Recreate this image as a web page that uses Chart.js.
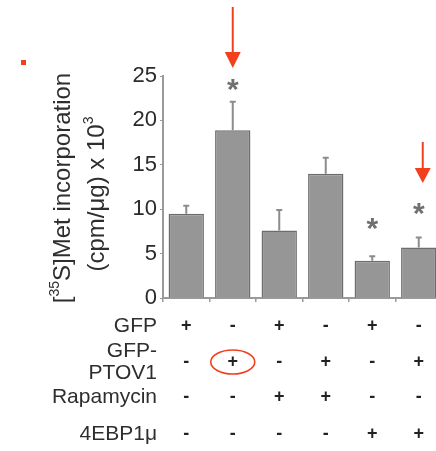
<!DOCTYPE html>
<html>
<head>
<meta charset="utf-8">
<script src="https://cdn.jsdelivr.net/npm/chart.js@4/dist/chart.umd.min.js"></script>
<style>
html,body{margin:0;padding:0;background:#fff;overflow:hidden;width:436px;height:451px;}
canvas{display:block;}
</style>
</head>
<body>
<canvas id="c" width="446" height="451"></canvas>
<script>
// ---- data ----
const categories = ["1", "2", "3", "4", "5", "6"];
const means = [9.5, 18.9, 7.6, 14.0, 4.2, 5.7];
const errTop = [10.4, 22.1, 9.9, 15.8, 4.7, 6.8];
const sigAt = [null, 23.6, null, null, 7.9, 9.6];   // asterisk positions (value units)
const yTicks = [0, 5, 10, 15, 20, 25];
const rowLabels = [["GFP"], ["GFP-", "PTOV1"], ["Rapamycin"], ["4EBP1\u03bc"]];
const rowSigns = [
  ["+", "-", "+", "-", "+", "-"],
  ["-", "+", "-", "+", "-", "+"],
  ["-", "-", "+", "+", "-", "-"],
  ["-", "-", "-", "-", "+", "+"]
];
const arrowBars = [1, 5];
const circledCell = [1, 1]; // row, column

const FONT = '"Liberation Sans", Arial, Helvetica, sans-serif';
const RED = '#f2401f';

const extras = {
  id: 'extras',
  afterDatasetsDraw(chart) {
    const ctx = chart.ctx;
    const x = chart.scales.x, y = chart.scales.y;
    ctx.save();
    // error bars
    ctx.strokeStyle = '#8c8c8c';
    ctx.lineWidth = 2;
    means.forEach((m, i) => {
      const cx = x.getPixelForValue(i);
      const y0 = y.getPixelForValue(m), y1 = y.getPixelForValue(errTop[i]);
      ctx.beginPath();
      ctx.moveTo(cx, y0); ctx.lineTo(cx, y1);
      ctx.moveTo(cx - 3, y1); ctx.lineTo(cx + 3, y1);
      ctx.stroke();
    });
    // asterisks
    ctx.fillStyle = '#707070';
    ctx.font = 'bold 30px ' + FONT;
    ctx.textAlign = 'center';
    ctx.textBaseline = 'middle';
    sigAt.forEach((v, i) => {
      if (v == null) return;
      ctx.fillText('*', x.getPixelForValue(i), y.getPixelForValue(v) + 2);
    });
    ctx.restore();
  },
  afterDraw(chart) {
    const ctx = chart.ctx;
    const x = chart.scales.x;
    ctx.save();
    // red square
    ctx.fillStyle = RED;
    ctx.fillRect(21, 60, 5, 5);
    // arrows
    const arrowSpecs = [[7, 52, 68, 0], [142, 168, 183, 4]];
    arrowBars.forEach((b, k) => {
      const [t, hb, tip, dx] = arrowSpecs[k];
      const cx = x.getPixelForValue(b) + dx;
      ctx.strokeStyle = RED; ctx.fillStyle = RED; ctx.lineWidth = 2;
      ctx.beginPath(); ctx.moveTo(cx, t); ctx.lineTo(cx, hb + 1); ctx.stroke();
      ctx.beginPath();
      ctx.moveTo(cx - 8, hb); ctx.lineTo(cx + 8, hb); ctx.lineTo(cx, tip);
      ctx.closePath(); ctx.fill();
    });
    // y-axis title
    ctx.fillStyle = '#2e2e2e';
    ctx.textBaseline = 'middle';
    function drawRich(parts, cx, cy) {
      ctx.save();
      ctx.translate(cx, cy);
      ctx.rotate(-Math.PI / 2);
      let total = 0;
      parts.forEach(p => { ctx.font = p.size + 'px ' + FONT; p.w = ctx.measureText(p.t).width; total += p.w; });
      let px = -total / 2;
      ctx.textAlign = 'left';
      parts.forEach(p => {
        ctx.font = p.size + 'px ' + FONT;
        ctx.fillText(p.t, px, p.sup ? -8 : 0);
        px += p.w;
      });
      ctx.restore();
    }
    drawRich([{t: '[', size: 24}, {t: '35', size: 14, sup: true}, {t: 'S]Met incorporation', size: 24}], 63, 188);
    drawRich([{t: '(cpm/\u03bcg) x 10', size: 24}, {t: '3', size: 14, sup: true}], 97, 194);
    // condition table
    const labelY = [[326], [351, 373], [397], [434]];
    const signY = [326, 362, 397, 434];
    ctx.textAlign = 'right';
    ctx.font = '21px ' + FONT;
    ctx.fillStyle = '#2e2e2e';
    rowLabels.forEach((lines, r) => {
      lines.forEach((s, j) => ctx.fillText(s, 157, labelY[r][j]));
    });
    ctx.textAlign = 'center';
    ctx.font = 'bold 18px ' + FONT;
    ctx.fillStyle = '#222';
    rowSigns.forEach((row, r) => {
      row.forEach((s, i) => ctx.fillText(s, x.getPixelForValue(i), signY[r]));
    });
    // ellipse
    const ex = x.getPixelForValue(circledCell[1]);
    ctx.strokeStyle = RED; ctx.lineWidth = 1.6;
    ctx.beginPath();
    ctx.ellipse(ex, signY[circledCell[0]], 22, 12, 0, 0, Math.PI * 2);
    ctx.stroke();
    ctx.restore();
  }
};

new Chart(document.getElementById('c'), {
  type: 'bar',
  data: {
    labels: categories,
    datasets: [{
      data: means,
      backgroundColor: '#969696',
      borderColor: '#6c6c6c',
      borderWidth: 1.5,
      barPercentage: 0.76,
      categoryPercentage: 1.0
    }]
  },
  options: {
    responsive: false,
    animation: false,
    layout: {padding: {top: 76, right: 4, left: 0, bottom: 0}},
    plugins: {legend: {display: false}, tooltip: {enabled: false}},
    scales: {
      x: {
        ticks: {display: false},
        grid: {drawOnChartArea: false, color: '#9a9a9a', tickLength: 4, lineWidth: 1.5},
        border: {color: '#9a9a9a', width: 2},
        afterFit(s) { s.height = 153; }
      },
      y: {
        min: 0, max: 25,
        afterBuildTicks(s) { s.ticks = yTicks.map(v => ({value: v})); },
        ticks: {font: {size: 22, family: FONT}, color: '#2a2a2a', padding: 3},
        grid: {drawOnChartArea: false, color: '#9a9a9a', tickLength: 3},
        border: {color: '#9a9a9a', width: 2},
        afterFit(s) { s.width = 163; }
      }
    }
  },
  plugins: [extras]
});
</script>
</body>
</html>
